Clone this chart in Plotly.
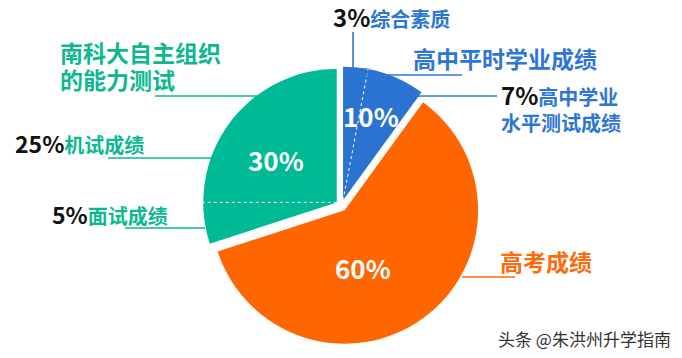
import math
import plotly.graph_objects as go

W, H = 682, 358

# ---------------- data ----------------
groups = ["高中平时学业成绩", "高考成绩", "南科大自主组织的能力测试"]
group_values = [10, 60, 30]
group_labels = ["10%", "60%", "30%"]
colors = ["#2B73D1", "#FF6600", "#00BA96"]

blue_sub_names = ["综合素质", "高中学业水平测试成绩"]
blue_sub_values = [3, 7]
teal_sub_names = ["面试成绩", "机试成绩"]   # clockwise order inside the teal slice
teal_sub_values = [5, 25]

# ---------------- geometry (layout) ----------------
PULL = 0.042
DOM_X = [0.2965, 0.7044]
DOM_Y = [0.0369, 0.8140]
# inside-label placement: (fraction of radius, angle clockwise from 12 o'clock)
LABEL_POLAR = [(0.67, 18), (0.45, 162), (0.56, 305)]

FONT = "Noto Sans CJK SC"
BLUE_T = "#2E76D4"
TEAL_T = "#0DB890"
ORANGE_T = "#FF6A0A"
BLACK_T = "#111111"

fig = go.Figure(go.Pie(
    labels=groups,
    values=group_values,
    textinfo="none",
    marker=dict(colors=colors, line=dict(width=0)),
    sort=False,
    direction="clockwise",
    rotation=0,
    pull=[PULL] * len(group_values),
    domain=dict(x=DOM_X, y=DOM_Y),
    hoverinfo="none",
    showlegend=False,
))

# pie geometry as plotly computes it
w = W * (DOM_X[1] - DOM_X[0])
h = H * (DOM_Y[1] - DOM_Y[0])
r = min(w, h) / (2 + 2 * PULL)
cx = W * (DOM_X[0] + DOM_X[1]) / 2
cy = H * (1 - DOM_Y[0]) - h / 2
total = sum(group_values)

starts = []
acc = 0
for v in group_values:
    starts.append(acc / total * 360)
    acc += v


def slice_center(i):
    a0 = starts[i]
    a1 = a0 + group_values[i] / total * 360
    mid = math.radians((a0 + a1) / 2)
    return cx + PULL * r * math.sin(mid), cy - PULL * r * math.cos(mid)


def to_paper(px, py):
    return px / W, 1 - py / H


shapes = []
annotations = []


def divider(i, ang_deg):
    sx, sy = slice_center(i)
    a = math.radians(ang_deg)
    ex, ey = sx + r * math.sin(a), sy - r * math.cos(a)
    x0, y0 = to_paper(sx, sy)
    x1, y1 = to_paper(ex, ey)
    shapes.append(dict(type="line", xref="paper", yref="paper", x0=x0, y0=y0, x1=x1, y1=y1,
                       line=dict(color="white", width=1, dash="dot")))


# blue slice subdivision
divider(0, starts[0] + blue_sub_values[0] / total * 360)
# teal slice subdivision
divider(2, starts[2] + teal_sub_values[0] / total * 360)

# inside percentage labels
for i, txt in enumerate(group_labels):
    sx, sy = slice_center(i)
    frac, ang = LABEL_POLAR[i]
    a = math.radians(ang)
    px, py = to_paper(sx + frac * r * math.sin(a), sy - frac * r * math.cos(a))
    annotations.append(dict(x=px, y=py, xref="paper", yref="paper", text=txt, showarrow=False,
                            xanchor="center", yanchor="middle",
                            font=dict(family=FONT, size=26, color="white", weight="bold")))


def hline(x0, x1, y, color, width=1.6):
    a0, b0 = to_paper(x0, y)
    a1, b1 = to_paper(x1, y)
    shapes.append(dict(type="line", xref="paper", yref="paper", x0=a0, y0=b0, x1=a1, y1=b1,
                       line=dict(color=color, width=width)))


def vline(x, y0, y1, color, width=1.6):
    a0, b0 = to_paper(x, y0)
    a1, b1 = to_paper(x, y1)
    shapes.append(dict(type="line", xref="paper", yref="paper", x0=a0, y0=b0, x1=a1, y1=b1,
                       line=dict(color=color, width=width)))


# leader lines
vline(353, 32, 72, BLUE_T)
hline(356, 462, 75, BLUE_T)
hline(418, 497, 96, BLUE_T)
hline(462, 515, 277, ORANGE_T)
hline(155, 258, 96, TEAL_T)
hline(108, 212, 158, TEAL_T)
hline(125, 205, 228, TEAL_T)


def label(x, y, text, size, color=BLACK_T, anchor="left", weight="bold", yanchor="middle"):
    px, py = to_paper(x, y)
    annotations.append(dict(x=px, y=py, xref="paper", yref="paper", text=text,
                            showarrow=False, xanchor=anchor, yanchor=yanchor, align="left",
                            font=dict(family=FONT, size=size, color=color, weight=weight)))


def pct_name(pct, name, color, psize, nsize):
    return (f"<span style='color:{BLACK_T};font-size:{psize}px'>{pct}</span>"
            f"<span style='color:{color};font-size:{nsize}px'>{name}</span>")


label(331, 17, pct_name(f"{blue_sub_values[0]}%", blue_sub_names[0], BLUE_T, 24, 20), 20)
label(411, 58, groups[0], 23, BLUE_T)
label(499, 107,
      pct_name(f"{blue_sub_values[1]}%", blue_sub_names[1][:4], BLUE_T, 24, 20)
      + "<br>" + f"<span style='color:{BLUE_T}'>{blue_sub_names[1][4:]}</span>", 20, BLUE_T)
label(498, 261, groups[1], 23, ORANGE_T)
label(58, 66,
      f"<span style='font-size:23px'>{groups[2][:7]}</span><br>"
      f"<span style='font-size:23px'>{groups[2][7:]}</span>", 21, TEAL_T)
label(13, 143, pct_name(f"{teal_sub_values[1]}%", teal_sub_names[1], TEAL_T, 23, 20), 20)
label(50, 214, pct_name(f"{teal_sub_values[0]}%", teal_sub_names[0], TEAL_T, 23, 20), 20)
label(673, 338, "头条 @朱洪州升学指南", 17, "#333333", anchor="right", weight="normal")

fig.update_layout(
    width=W, height=H,
    margin=dict(l=0, r=0, t=0, b=0),
    paper_bgcolor="white",
    plot_bgcolor="white",
    shapes=shapes,
    annotations=annotations,
)

fig.write_html("out.html", config={"displayModeBar": False},
               post_script="document.body.style.margin='0';")
